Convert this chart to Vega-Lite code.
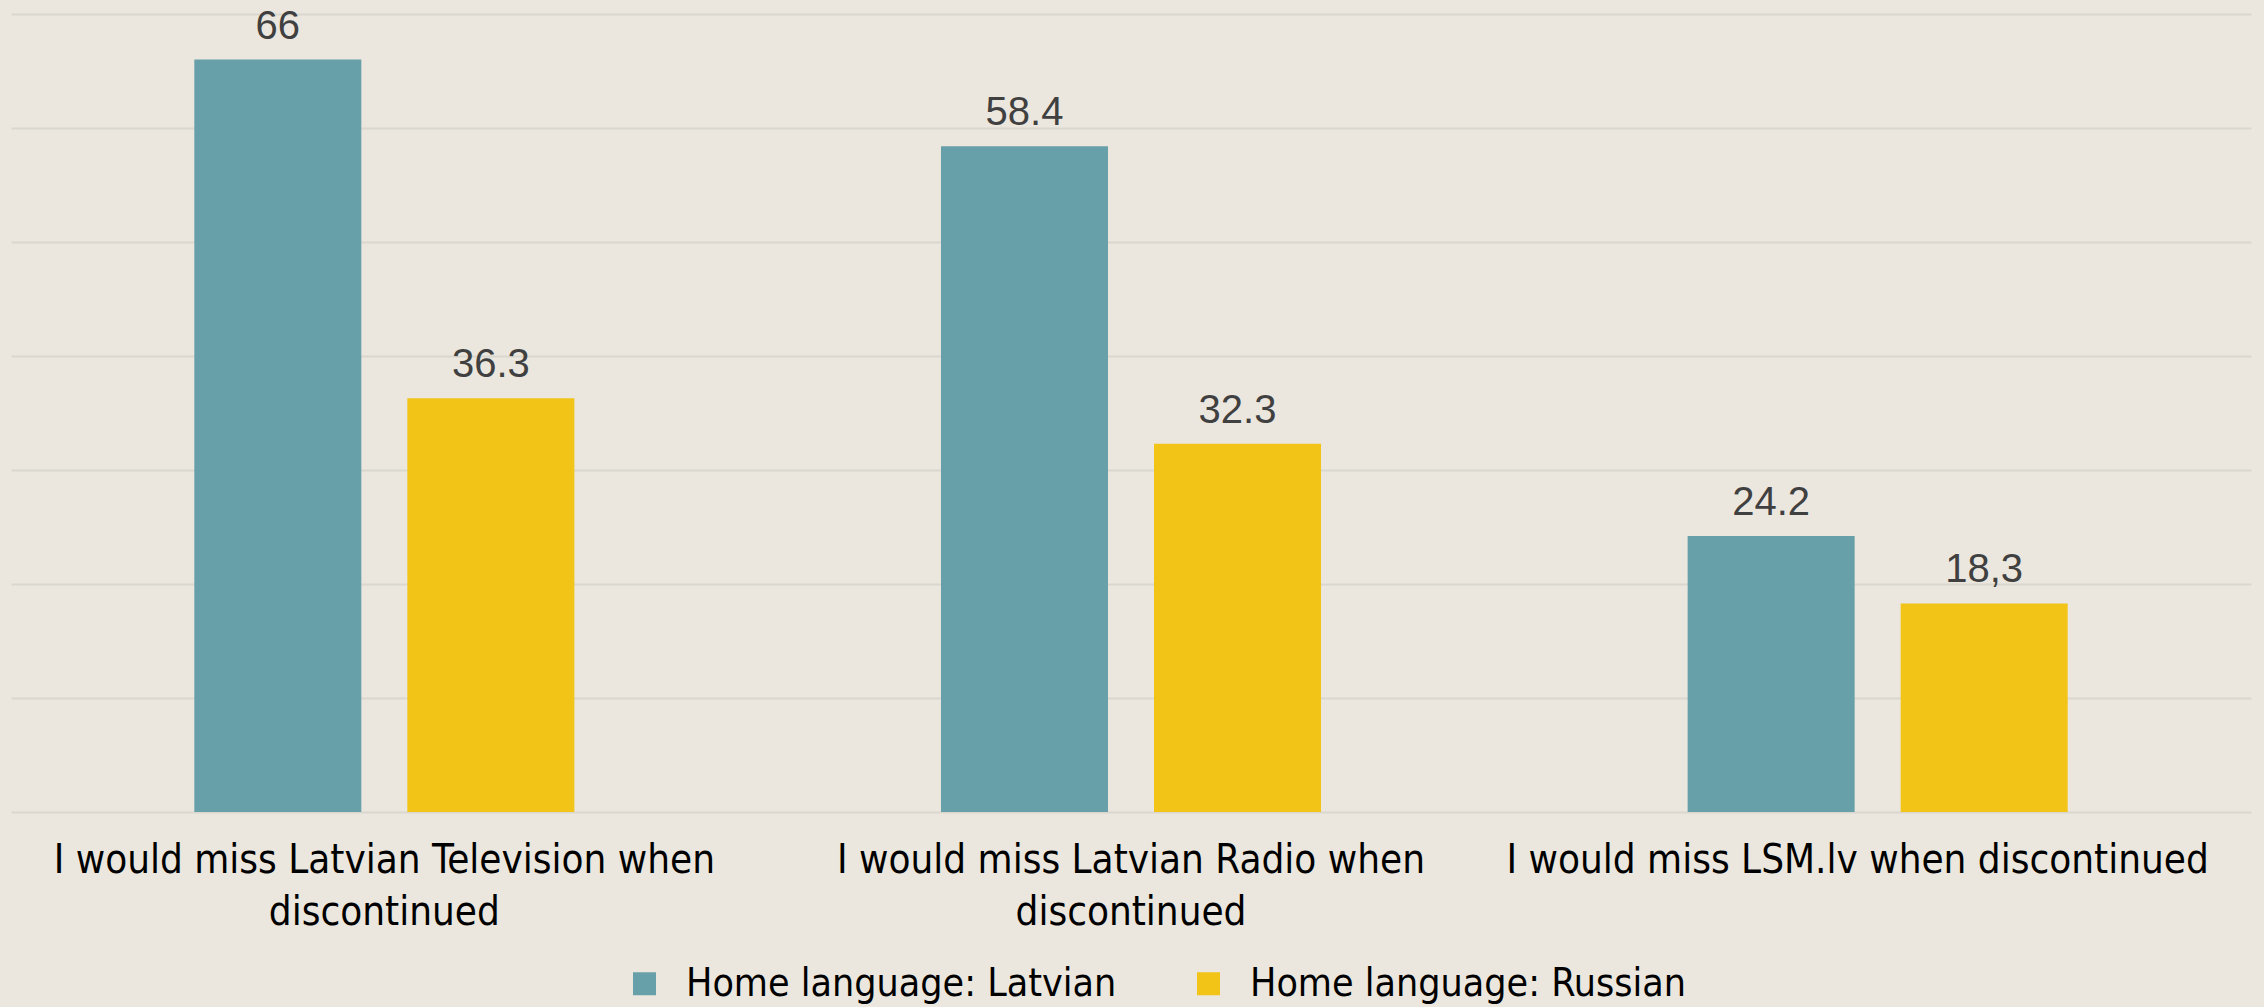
{
  "$schema": "https://vega.github.io/schema/vega-lite/v6.json",
  "width": 2240,
  "height": 798,
  "autosize": {"type": "none"},
  "padding": {"left": 11, "top": 14, "right": 13, "bottom": 195},
  "background": "#EBE7DE",
  "config": {
    "view": {"stroke": null},
    "font": "Liberation Sans"
  },
  "data": {
    "values": [
      {"category": "I would miss Latvian Television when discontinued", "group": "Home language: Latvian", "value": 66, "label": "66"},
      {"category": "I would miss Latvian Television when discontinued", "group": "Home language: Russian", "value": 36.3, "label": "36.3"},
      {"category": "I would miss Latvian Radio when discontinued", "group": "Home language: Latvian", "value": 58.4, "label": "58.4"},
      {"category": "I would miss Latvian Radio when discontinued", "group": "Home language: Russian", "value": 32.3, "label": "32.3"},
      {"category": "I would miss LSM.lv when discontinued", "group": "Home language: Latvian", "value": 24.2, "label": "24.2"},
      {"category": "I would miss LSM.lv when discontinued", "group": "Home language: Russian", "value": 18.3, "label": "18,3"}
    ]
  },
  "encoding": {
    "x": {
      "field": "category",
      "type": "nominal",
      "sort": null,
      "scale": {"paddingInner": 0.491, "paddingOuter": 0.2455},
      "axis": {
        "title": null,
        "ticks": false,
        "domain": false,
        "labelAngle": 0,
        "labelFont": "DejaVu Sans Condensed, Liberation Sans",
        "labelFontSize": 40,
        "labelColor": "#000000",
        "labelLineHeight": 52,
        "labelPadding": 28,
        "labelBaseline": "top",
        "labelLimit": 1000,
        "labelOffset": {"condition": {"test": "datum.value == 'I would miss LSM.lv when discontinued'", "value": -20}, "value": 0},
        "labelExpr": "datum.value == 'I would miss Latvian Television when discontinued' ? ['I would miss Latvian Television when', 'discontinued'] : datum.value == 'I would miss Latvian Radio when discontinued' ? ['I would miss Latvian Radio when', 'discontinued'] : datum.value"
      }
    },
    "xOffset": {
      "field": "group",
      "type": "nominal",
      "scale": {"paddingInner": 0.216, "paddingOuter": 0}
    },
    "y": {
      "field": "value",
      "type": "quantitative",
      "scale": {"domain": [0, 70], "nice": false},
      "axis": {
        "title": null,
        "labels": false,
        "ticks": false,
        "domain": false,
        "values": [0, 10, 20, 30, 40, 50, 60, 70],
        "grid": true,
        "gridColor": "#DAD7D0",
        "gridWidth": 2
      }
    }
  },
  "layer": [
    {
      "mark": {"type": "bar"},
      "encoding": {
        "color": {
          "field": "group",
          "type": "nominal",
          "scale": {"range": ["#68A0AA", "#F2C417"]},
          "legend": {
            "title": null,
            "orient": "none",
            "direction": "horizontal",
            "legendX": 614,
            "legendY": 950,
            "symbolType": "square",
            "symbolSize": 529,
            "symbolStrokeWidth": 0,
            "labelFont": "DejaVu Sans Condensed, Liberation Sans",
            "labelFontSize": 39,
            "labelColor": "#000000",
            "labelOffset": 22,
            "columnPadding": 72,
            "labelLimit": 1000
          }
        }
      }
    },
    {
      "mark": {"type": "text", "baseline": "alphabetic", "dy": -21, "fontSize": 40, "color": "#404040", "font": "Liberation Sans"},
      "encoding": {
        "text": {"field": "label"}
      }
    }
  ]
}
